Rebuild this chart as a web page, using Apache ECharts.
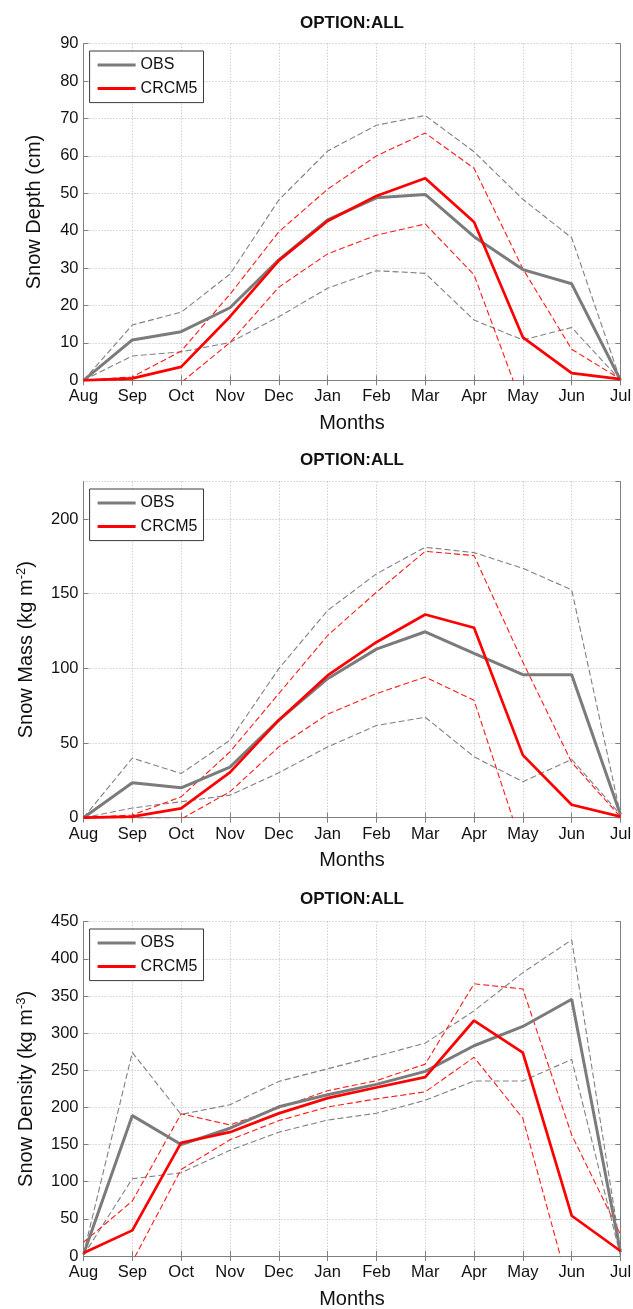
<!DOCTYPE html>
<html>
<head>
<meta charset="utf-8">
<script src="https://cdn.jsdelivr.net/npm/echarts@6/dist/echarts.min.js"></script>
<style>
  html, body { margin: 0; padding: 0; background: #ffffff; }
  #chart { width: 633px; height: 1309px; }
</style>
</head>
<body>
<div id="chart"></div>
<script>
// Monthly climatology, August to July
const months = ['Aug', 'Sep', 'Oct', 'Nov', 'Dec', 'Jan', 'Feb', 'Mar', 'Apr', 'May', 'Jun', 'Jul'];

// Snow depth (cm): mean and mean ± spread
const depthObs     = [0, 10.8, 13.0, 19.4, 32.2, 42.9, 48.8, 49.7, 38.4, 29.6, 25.8, 0];
const depthObsHi   = [0, 14.8, 18.2, 28.4, 48.2, 61.3, 68.2, 70.8, 61.1, 48.4, 38.1, 0];
const depthObsLo   = [0, 6.5, 7.6, 10.1, 17.0, 24.6, 29.3, 28.6, 16.1, 10.8, 14.1, 0];
const depthCrcm    = [0, 0.5, 3.6, 17.0, 32.0, 42.6, 49.3, 54.0, 42.3, 11.5, 1.9, 0.3];
const depthCrcmHi  = [0, 0.9, 7.8, 23.0, 39.7, 51.1, 60.0, 66.1, 56.7, 29.8, 8.3, 0.3];
const depthCrcmLo  = [0, -0.2, -0.6, 10.1, 24.9, 33.8, 38.8, 41.8, 28.2, -7.0, -4.5, 0];

// Snow mass (kg m-2)
const massObs      = [0, 23.4, 20.0, 33.9, 65.3, 93.1, 112.9, 124.5, 110.0, 95.8, 95.8, 2];
const massObsHi    = [0, 39.9, 29.6, 51.9, 99.8, 138.8, 163.3, 181.1, 177.5, 167.0, 152.6, 2];
const massObsLo    = [0, 6.5, 10.7, 15.1, 30.1, 47.4, 61.7, 67.3, 40.8, 24.1, 39.0, 2];
const massCrcm     = [0, 0.7, 6.2, 30.3, 65.3, 95.3, 117.5, 136.1, 127.2, 41.9, 8.7, 0.7];
const massCrcmHi   = [0, 1.8, 14.0, 44.1, 83.1, 122.0, 151.0, 178.4, 175.5, 104.2, 37.0, 0.5];
const massCrcmLo   = [0, -0.4, -0.9, 17.4, 47.4, 69.3, 83.1, 94.2, 78.6, -21.0, -15.0, 0];

// Snow density (kg m-3)
const densObs      = [2, 189, 150, 172, 200.9, 217, 231, 248.5, 283, 309, 345.6, 5];
const densObsHi    = [3, 274, 190.6, 203.6, 235, 252, 269, 286.5, 330, 381.5, 425.6, 10];
const densObsLo    = [1, 104, 112, 142.2, 166.7, 183, 192.2, 209.5, 235.5, 235.5, 264.7, 0];
const densCrcm     = [4, 34.5, 152.5, 166.7, 192, 212.5, 226.8, 240.7, 317, 273.6, 54.2, 6.7];
const densCrcmHi   = [18.5, 74, 191.5, 176.4, 199.1, 222.5, 236, 258.3, 366.4, 359.5, 163, 28.9];
const densCrcmLo   = [-10, -7.7, 116.5, 156.4, 182.2, 200.5, 211.5, 221, 267.5, 185.3, -56, -15];

// Y-axis ranges and titles for the three panels
const yMax       = [90, 225, 450];
const yStep      = [10, 50, 50];
const yTitles    = [
  '{t|Snow Depth (cm)}',
  '{t|Snow Mass (kg m}{s|-2}{t|)}',
  '{t|Snow Density (kg m}{s|-3}{t|)}'
];
const panelTitle = 'OPTION:ALL';
const xTitle     = 'Months';
const legendNames = ['OBS', 'CRCM5'];

const panelData = [
  { obs: depthObs, obsHi: depthObsHi, obsLo: depthObsLo, crcm: depthCrcm, crcmHi: depthCrcmHi, crcmLo: depthCrcmLo },
  { obs: massObs,  obsHi: massObsHi,  obsLo: massObsLo,  crcm: massCrcm,  crcmHi: massCrcmHi,  crcmLo: massCrcmLo },
  { obs: densObs,  obsHi: densObsHi,  obsLo: densObsLo,  crcm: densCrcm,  crcmHi: densCrcmHi,  crcmLo: densCrcmLo }
];

// Layout of each panel (pixels)
const layout = [
  { top: 43.7,  height: 336.6, nameGap: 37, titleTop: 14.5 },
  { top: 481.7, height: 336.0, nameGap: 45, titleTop: 452 },
  { top: 921.7, height: 334.3, nameGap: 45, titleTop: 890.5 }
];
const plotLeft = 83.5;
const plotWidth = 537;

const FONT = '"Liberation Sans", Arial, Helvetica, sans-serif';
const INK = '#111111';
const FRAME = '#7f7f7f';
const GRIDC = '#b9b9b9';

const OBS_COLOR = '#7b7b7b';
const CRCM_COLOR = '#ff0000';

const option = {
  animation: false,
  backgroundColor: '#ffffff',
  textStyle: { fontFamily: FONT },
  title: [], legend: [], grid: [], xAxis: [], yAxis: [], series: []
};

layout.forEach((L, i) => {
  option.title.push({
    text: panelTitle, left: plotLeft + plotWidth / 2, top: L.titleTop,
    textAlign: 'center', padding: 0,
    textStyle: { fontSize: 17, fontWeight: 'bold', color: INK, fontFamily: FONT }
  });

  option.grid.push({
    left: plotLeft, top: L.top, width: plotWidth, height: L.height,
    show: false, containLabel: false, outerBoundsMode: 'none'
  });

  // legend keys drawn as short solid bars in the series colours
  option.legend.push({
    data: legendNames.map(n => ({ name: n, icon: 'rect' })),
    orient: 'vertical', left: 89.6, top: L.top + 7.3,
    padding: [6, 6, 6, 8], itemGap: 7.6, itemWidth: 38, itemHeight: 3,
    borderColor: '#3a3a3a', borderWidth: 1, borderRadius: 0, backgroundColor: '#ffffff',
    selectedMode: false, z: 10,
    textStyle: { fontSize: 16, lineHeight: 14, color: INK, fontFamily: FONT }
  });

  // bottom category axis
  option.xAxis.push({
    type: 'category', gridIndex: i, data: months, boundaryGap: false,
    axisLine: { show: true, lineStyle: { color: FRAME, width: 1 } },
    axisTick: { show: true, inside: true, length: 5, interval: 0, lineStyle: { color: FRAME } },
    axisLabel: { interval: 0, color: INK, fontSize: 16.5, margin: 8, fontFamily: FONT },
    splitLine: { show: true, interval: 0, lineStyle: { color: GRIDC, type: [1, 2], width: 1 } },
    name: xTitle, nameLocation: 'middle', nameGap: 33,
    nameTextStyle: { fontSize: 20, color: INK, fontFamily: FONT }
  });
  // top mirror axis (frame and ticks only)
  option.xAxis.push({
    type: 'category', gridIndex: i, data: months, boundaryGap: false, position: 'top',
    axisLine: { show: true, lineStyle: { color: FRAME, width: 1 } },
    axisTick: { show: true, inside: true, length: 5, interval: 0, lineStyle: { color: FRAME } },
    axisLabel: { show: false }, splitLine: { show: false }
  });

  // left value axis
  option.yAxis.push({
    type: 'value', gridIndex: i, min: 0, max: yMax[i], interval: yStep[i],
    axisLine: { show: true, lineStyle: { color: FRAME, width: 1 } },
    axisTick: { show: true, inside: true, length: 5, lineStyle: { color: FRAME } },
    axisLabel: { color: INK, fontSize: 16.5, margin: 5, fontFamily: FONT,
                 showMaxLabel: (yMax[i] % yStep[i] === 0) },
    splitLine: { show: true, lineStyle: { color: GRIDC, type: [1, 2], width: 1 } },
    name: yTitles[i], nameLocation: 'middle', nameGap: L.nameGap, nameRotate: 90,
    nameTextStyle: {
      color: INK, fontFamily: FONT,
      rich: {
        t: { fontSize: 20, color: INK, fontFamily: FONT, lineHeight: 24, verticalAlign: 'middle' },
        s: { fontSize: 13, color: INK, fontFamily: FONT, lineHeight: 13, verticalAlign: 'top' }
      }
    }
  });
  // right mirror axis
  option.yAxis.push({
    type: 'value', gridIndex: i, min: 0, max: yMax[i], interval: yStep[i], position: 'right',
    axisLine: { show: true, lineStyle: { color: FRAME, width: 1 } },
    axisTick: { show: true, inside: true, length: 5, lineStyle: { color: FRAME } },
    axisLabel: { show: false }, splitLine: { show: false }
  });

  const d = panelData[i];
  const xi = 2 * i, yi = 2 * i;
  const mk = (name, data, color, width, dashed, z) => ({
    name, type: 'line', xAxisIndex: xi, yAxisIndex: yi, data,
    symbol: 'none', showSymbol: false, silent: true, clip: true, z,
    emphasis: { disabled: true },
    itemStyle: { color },
    lineStyle: { color, width, type: dashed ? [6, 3] : 'solid' }
  });

  option.series.push(
    mk('OBS upper', d.obsHi, '#808080', 1.1, true, 2),
    mk('OBS lower', d.obsLo, '#808080', 1.1, true, 2),
    mk('CRCM5 upper', d.crcmHi, '#ff1a1a', 1.1, true, 2),
    mk('CRCM5 lower', d.crcmLo, '#ff1a1a', 1.1, true, 2),
    mk('OBS', d.obs, OBS_COLOR, 3, false, 3),
    mk('CRCM5', d.crcm, CRCM_COLOR, 2.7, false, 4)
  );
});

const chart = echarts.init(document.getElementById('chart'), null, { renderer: 'canvas' });
chart.setOption(option);
</script>
</body>
</html>
